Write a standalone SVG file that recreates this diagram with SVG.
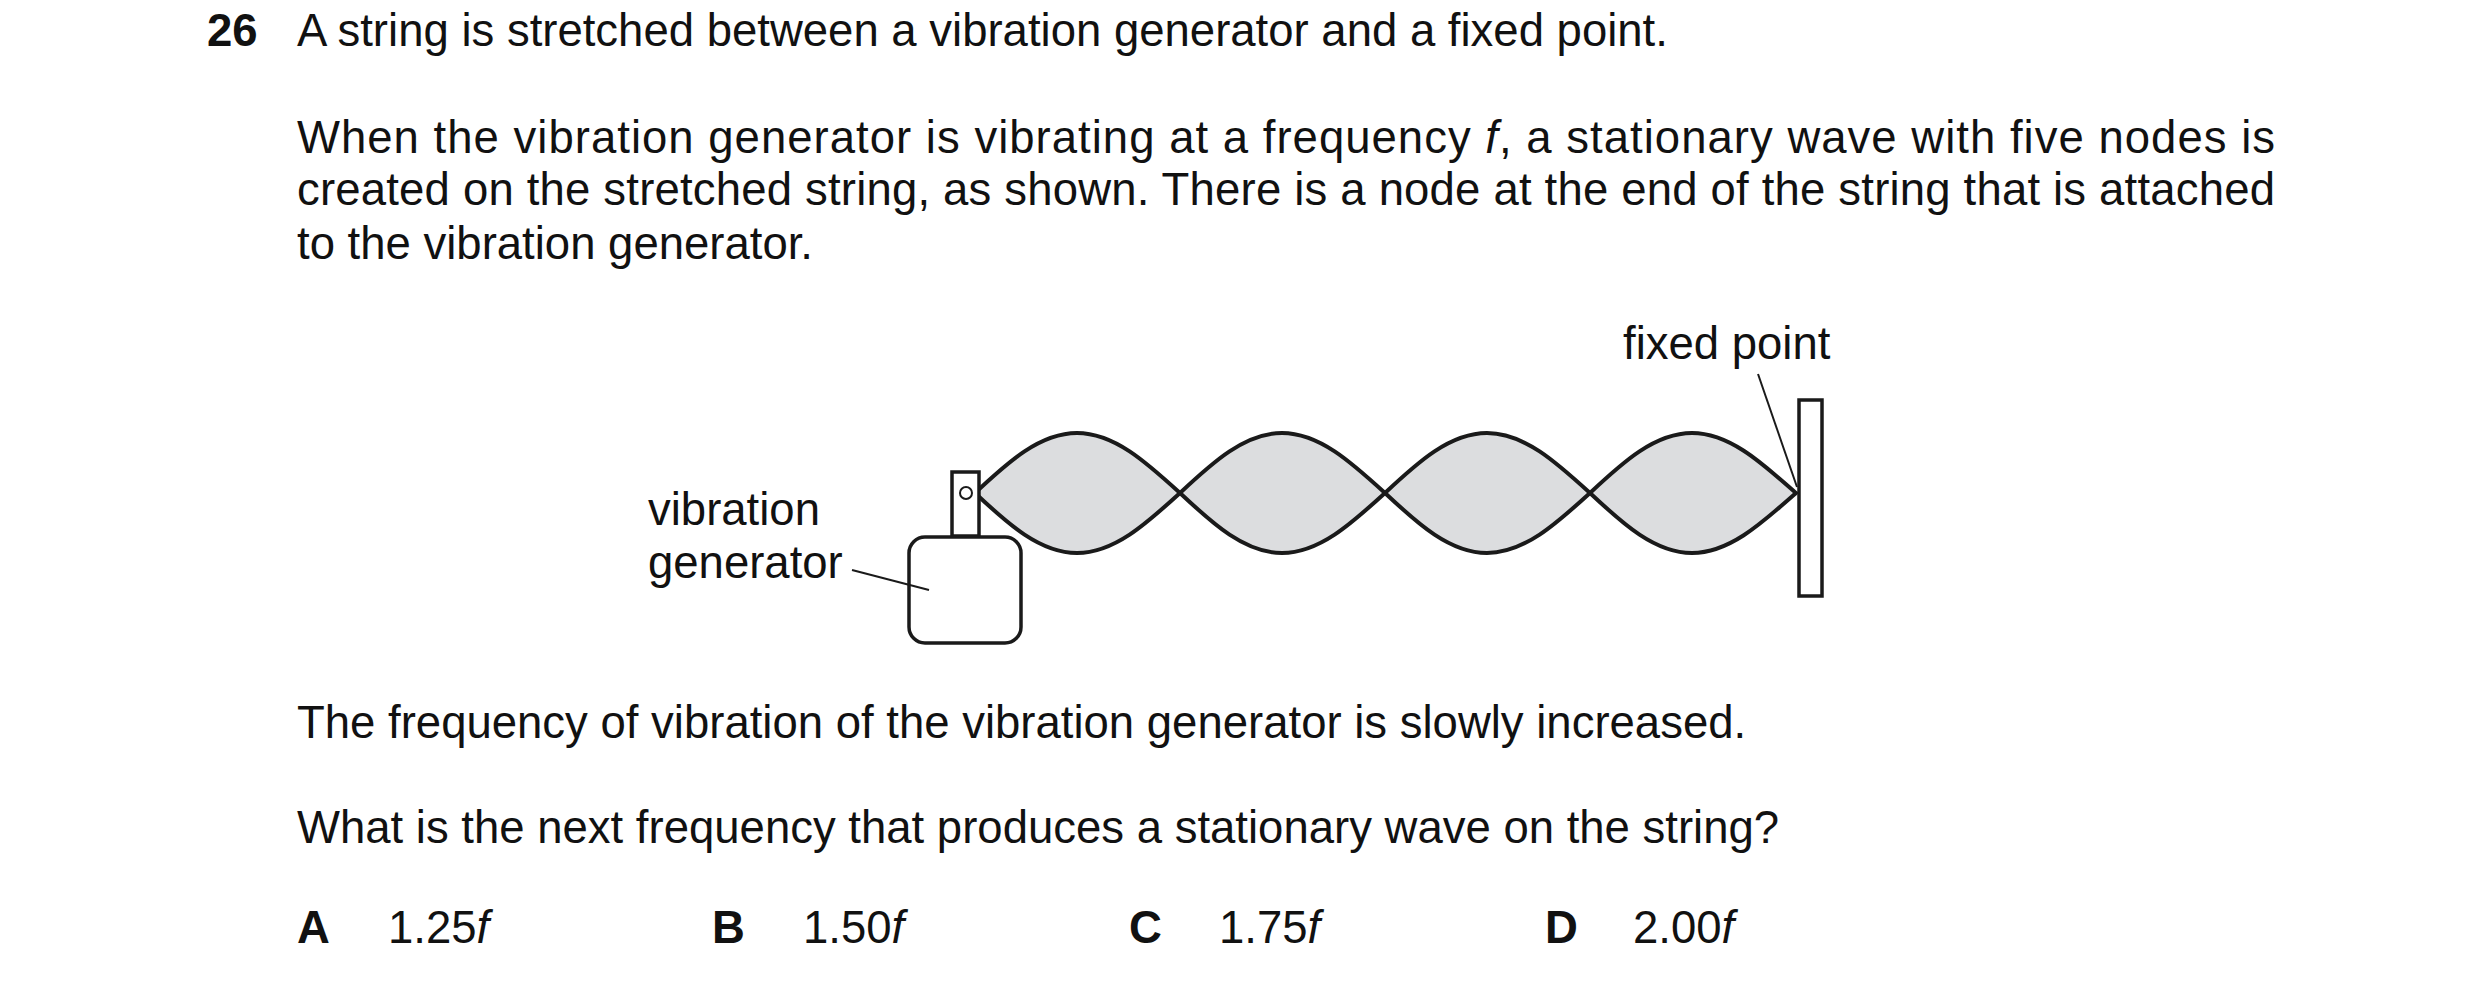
<svg xmlns="http://www.w3.org/2000/svg" width="2480" height="984" viewBox="0 0 2480 984">
<style>
text{font-family:"Liberation Sans",Arial,sans-serif;font-size:45.5px;fill:#111}
.b{font-weight:bold}
.l{fill:#dcdddf;stroke:#1a1a1a;stroke-width:4}
.s{fill:#fff;stroke:#1a1a1a;stroke-width:3.5}
.t{stroke:#1a1a1a;stroke-width:2;fill:none}
</style>
<rect width="2480" height="984" fill="#fff"/>
<text x="207" y="46" class="b">26</text>
<text x="297" y="46">A string is stretched between a vibration generator and a fixed point.</text>
<text x="297" y="153" textLength="1978" lengthAdjust="spacing">When the vibration generator is vibrating at a frequency <tspan font-style="italic">f</tspan>, a stationary wave with five nodes is</text>
<text x="297" y="205" textLength="1978" lengthAdjust="spacing">created on the stretched string, as shown. There is a node at the end of the string that is attached</text>
<text x="297" y="259">to the vibration generator.</text>
<g id="wave">
<path class="l" d="M975,493 C1008,462 1040,433 1077,433 C1114,433 1146,462 1180,493 C1146,524 1114,553 1077,553 C1040,553 1008,524 975,493Z"/>
<path class="l" d="M1180,493 C1213,462 1245,433 1282,433 C1319,433 1351,462 1385,493 C1351,524 1319,553 1282,553 C1245,553 1213,524 1180,493Z"/>
<path class="l" d="M1385,493 C1418,462 1450,433 1487,433 C1524,433 1556,462 1590,493 C1556,524 1524,553 1487,553 C1450,553 1418,524 1385,493Z"/>
<path class="l" d="M1590,493 C1623,462 1655,433 1692,433 C1729,433 1761,462 1796,493 C1761,524 1729,553 1692,553 C1655,553 1623,524 1590,493Z"/>
</g>
<g id="generator">
<rect class="s" x="952" y="472" width="27" height="64"/>
<circle cx="966" cy="493" r="6" fill="#fff" stroke="#1a1a1a" stroke-width="2"/>
<rect class="s" x="909" y="537" width="112" height="106" rx="16"/>
<text x="648" y="525">vibration</text>
<text x="648" y="578">generator</text>
</g>
<g id="fixed">
<rect class="s" x="1799" y="400" width="23" height="196"/>
<text x="1623" y="359">fixed point</text>
</g>
<g id="connectors">
<line class="t" x1="852" y1="570" x2="929" y2="590"/>
<line class="t" x1="1758" y1="374" x2="1797" y2="487"/>
</g>
<text x="297" y="738">The frequency of vibration of the vibration generator is slowly increased.</text>
<text x="297" y="843">What is the next frequency that produces a stationary wave on the string?</text>
<text x="297" y="943" class="b">A</text><text x="388" y="943">1.25<tspan font-style="italic">f</tspan></text>
<text x="712" y="943" class="b">B</text><text x="803" y="943">1.50<tspan font-style="italic">f</tspan></text>
<text x="1129" y="943" class="b">C</text><text x="1219" y="943">1.75<tspan font-style="italic">f</tspan></text>
<text x="1545" y="943" class="b">D</text><text x="1633" y="943">2.00<tspan font-style="italic">f</tspan></text>
</svg>
